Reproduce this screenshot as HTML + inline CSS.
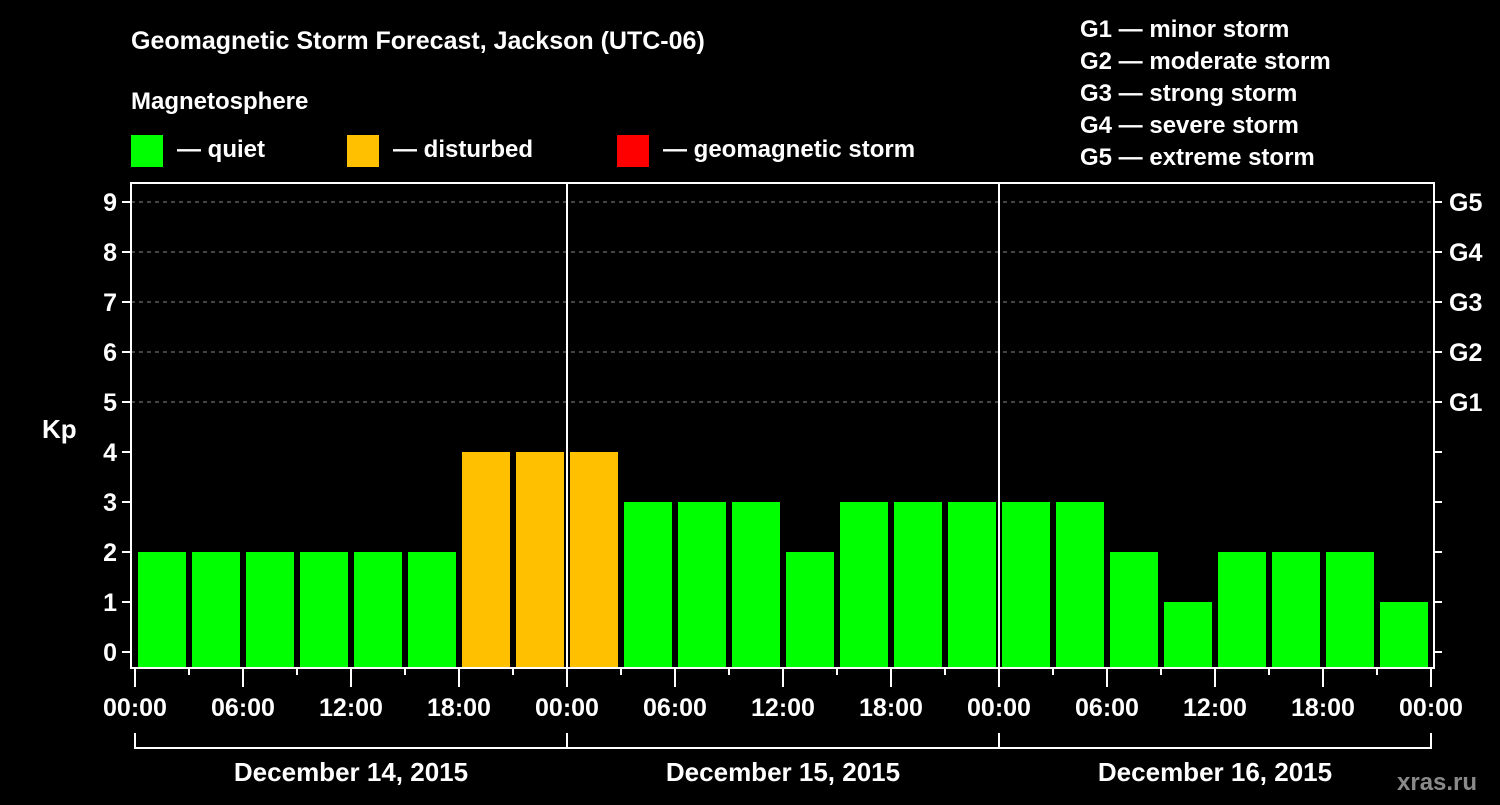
<!DOCTYPE html>
<html><head><meta charset="utf-8"><style>
body{margin:0;background:#000;}
svg text{font-family:"Liberation Sans",Arial,sans-serif;font-weight:bold;fill:#fff;}
</style></head><body>
<svg width="1500" height="800" xmlns="http://www.w3.org/2000/svg">
<rect width="1500" height="800" fill="#000"/>
<text x="131" y="49" font-size="25">Geomagnetic Storm Forecast, Jackson (UTC-06)</text>
<text x="131" y="109" font-size="24">Magnetosphere</text>
<g><rect x="131" y="135" width="32" height="32" fill="#00ff00"/><text x="177" y="157" font-size="24">— quiet</text></g>
<g><rect x="347" y="135" width="32" height="32" fill="#ffc000"/><text x="393" y="157" font-size="24">— disturbed</text></g>
<g><rect x="617" y="135" width="32" height="32" fill="#ff0000"/><text x="663" y="157" font-size="24">— geomagnetic storm</text></g>
<g font-size="24">
<text x="1080" y="37">G1 — minor storm</text>
<text x="1080" y="69">G2 — moderate storm</text>
<text x="1080" y="101">G3 — strong storm</text>
<text x="1080" y="133">G4 — severe storm</text>
<text x="1080" y="165">G5 — extreme storm</text>
</g>
<text x="42" y="438" font-size="26">Kp</text>
<text x="1590" y="790" font-size="24" fill="#888" style="fill:#8a8a8a" transform="translate(-193,0)">xras.ru</text>
<g id="plot"></g>
</svg>
<script>
const kpValues=[2,2,2,2,2,2,4,4,4,3,3,3,2,3,3,3,3,3,2,1,2,2,2,1];
const yTicks=[0,1,2,3,4,5,6,7,8,9];
const gLabels=["G1","G2","G3","G4","G5"];
const hourLabels=["00:00","06:00","12:00","18:00","00:00","06:00","12:00","18:00","00:00","06:00","12:00","18:00","00:00"];
const dayLabels=["December 14, 2015","December 15, 2015","December 16, 2015"];
const NS="http://www.w3.org/2000/svg";
const L=131,R=1434,T=183,B=668,X0=135,SLOT=54;
const y=v=>652-50*v;
const x=h=>X0+h*SLOT/3;
const g=document.getElementById('plot');
function mk(t,a,p){const e=document.createElementNS(NS,t);for(const k in a)e.setAttribute(k,a[k]);(p||g).appendChild(e);return e;}
yTicks.forEach(v=>{
 if(v>=5){const l=mk('line',{x1:L,x2:R,y1:y(v),y2:y(v),stroke:'#888','stroke-dasharray':'4,4','stroke-width':1});
 
 }
 mk('line',{x1:L-9,x2:L,y1:y(v),y2:y(v),stroke:'#fff','stroke-width':2});
 mk('line',{x1:R,x2:R+8,y1:y(v),y2:y(v),stroke:'#fff','stroke-width':2});
 const t=mk('text',{x:L-14,y:y(v)+9,'font-size':25,'text-anchor':'end'});t.textContent=v;
 
 
});
gLabels.forEach((s,i)=>{const t=mk('text',{x:1449,y:y(5+i)+9,'font-size':25});t.textContent=s;
 
 });
kpValues.forEach((v,i)=>{
 const c=v>=5?'#ff0000':(v>=4?'#ffc000':'#00ff00');
 const r=mk('rect',{x:x(i*3)+3,y:y(v),width:48,height:B-y(v),fill:c});
 
 
});
mk('rect',{x:L,y:T,width:R-L,height:B-T,fill:'none',stroke:'#fff','stroke-width':2});
[24,48].forEach(h=>mk('line',{x1:x(h),x2:x(h),y1:T,y2:B,stroke:'#fff','stroke-width':2}));
for(let h=0;h<=72;h+=3){mk('line',{x1:x(h),x2:x(h),y1:B,y2:h%6==0?687:675,stroke:'#fff','stroke-width':2});}
hourLabels.forEach((s,i)=>{const t=mk('text',{x:x(i*6),y:716,'font-size':25,'text-anchor':'middle'});t.textContent=s;
 
 });
dayLabels.forEach((s,i)=>{
 mk('path',{d:`M${x(i*24)} 733V748H${x(i*24+24)}V733`,fill:'none',stroke:'#fff','stroke-width':2});
 const t=mk('text',{x:x(i*24+12),y:781,'font-size':26,'text-anchor':'middle'});t.textContent=s;
 
 });
</script>
</body></html>
